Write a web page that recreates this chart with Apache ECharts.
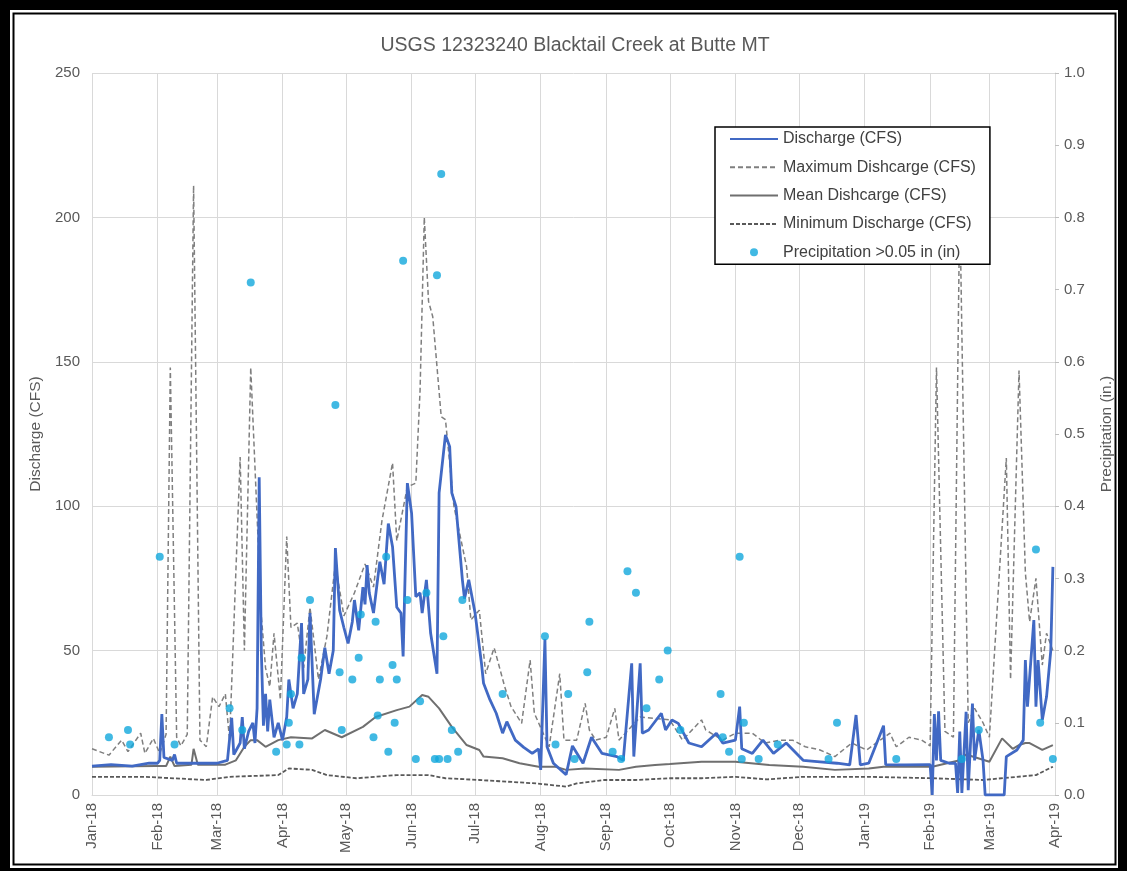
<!DOCTYPE html>
<html>
<head>
<meta charset="utf-8">
<script src="https://cdn.jsdelivr.net/npm/echarts@6/dist/echarts.min.js"></script>
<style>
html,body{margin:0;padding:0;background:#fff;}
#chart{width:1127px;height:871px;}
</style>
</head>
<body>
<div id="chart"></div>
<script>
const titleText = 'USGS 12323240 Blacktail Creek at Butte MT';
const seriesNames = ['Discharge (CFS)','Maximum Dishcarge (CFS)','Mean Dishcarge (CFS)','Minimum Discharge (CFS)','Precipitation >0.05 in (in)'];
const monthAbbr = ['Jan','Feb','Mar','Apr','May','Jun','Jul','Aug','Sep','Oct','Nov','Dec'];

const discharge = [
['2018-01-01',10],['2018-01-10',10.5],['2018-01-20',10],['2018-01-28',11],['2018-02-01',11],['2018-02-02',12],['2018-02-03',28],['2018-02-04',13],
['2018-02-08',12],['2018-02-09',14],['2018-02-10',11],['2018-02-20',11],['2018-03-01',11],['2018-03-06',12],['2018-03-08',26.7],['2018-03-09',14],
['2018-03-12',18],['2018-03-13',27],['2018-03-14',16],['2018-03-16',22],['2018-03-18',25],['2018-03-19',18],['2018-03-20',30],['2018-03-21',110],
['2018-03-22',50],['2018-03-23',24],['2018-03-24',35],['2018-03-25',22],['2018-03-26',33],['2018-03-28',20],['2018-03-30',25],['2018-04-01',19],['2018-04-03',27],['2018-04-04',40],
['2018-04-06',30],['2018-04-08',35],['2018-04-10',59.5],['2018-04-11',35],['2018-04-13',40],['2018-04-14',63],['2018-04-16',28],['2018-04-19',40],
['2018-04-21',51],['2018-04-23',42],['2018-04-25',50],['2018-04-26',85.5],['2018-04-28',64],['2018-04-30',58],['2018-05-02',52.5],['2018-05-04',60],['2018-05-05',67.5],['2018-05-07',57],
['2018-05-09',72],['2018-05-10',66],['2018-05-11',79.6],['2018-05-12',70],['2018-05-14',63],['2018-05-16',75],['2018-05-17',80.8],['2018-05-19',73],['2018-05-21',94],['2018-05-23',86],['2018-05-25',65],['2018-05-27',63],
['2018-05-28',48],['2018-05-30',108],['2018-06-01',97.6],['2018-06-03',68.7],['2018-06-05',70],['2018-06-06',63],['2018-06-08',74.5],['2018-06-10',56],['2018-06-13',42],
['2018-06-14',104.6],['2018-06-17',124.7],['2018-06-19',120.6],['2018-06-20',104.6],['2018-06-22',99.8],['2018-06-25',74.5],['2018-06-26',68],['2018-06-28',74.5],['2018-07-01',63],
['2018-07-04',45.7],['2018-07-05',38.7],['2018-07-08',33],['2018-07-11',28.3],['2018-07-14',21.4],['2018-07-16',25.4],['2018-07-20',19],['2018-07-24',16.5],['2018-07-28',14.4],['2018-07-31',16],
['2018-08-01',8.7],['2018-08-03',54],['2018-08-04',16.7],['2018-08-07',11],['2018-08-13',7],['2018-08-16',17],['2018-08-21',11],['2018-08-25',20],
['2018-08-30',14.4],['2018-09-06',13.3],['2018-09-09',12],['2018-09-13',45.6],['2018-09-14',13.3],['2018-09-17',45.6],['2018-09-18',21.4],['2018-09-21',22.5],
['2018-09-27',28.3],['2018-09-29',22.5],['2018-10-02',26],['2018-10-05',24.8],['2018-10-10',18],['2018-10-16',16.7],['2018-10-23',21.4],['2018-10-26',18],
['2018-11-01',19],['2018-11-03',30.6],['2018-11-04',16],['2018-11-09',14.4],['2018-11-14',19],['2018-11-19',14.4],['2018-11-25',18],['2018-12-03',12],
['2018-12-11',11.5],['2018-12-19',11],['2018-12-25',10.4],['2018-12-28',27.7],['2018-12-30',10.4],['2019-01-03',11],['2019-01-10',24],['2019-01-11',10.5],
['2019-01-20',10.4],['2019-01-31',10.5],['2019-02-01',10.5],['2019-02-02',0],['2019-02-03',28],['2019-02-04',12],['2019-02-05',29],['2019-02-06',12],
['2019-02-10',11],['2019-02-13',11],['2019-02-14',0.7],['2019-02-15',22],['2019-02-16',0.7],['2019-02-18',28.8],['2019-02-19',1.7],['2019-02-21',31.7],
['2019-02-22',12],['2019-02-24',22.5],['2019-02-26',12],['2019-02-27',0],['2019-03-08',0],['2019-03-09',13.3],['2019-03-14',15.6],['2019-03-17',19],
['2019-03-18',46.7],['2019-03-19',30.6],['2019-03-22',60.6],['2019-03-23',30.6],['2019-03-24',46.7],['2019-03-26',26],['2019-03-28',34],['2019-03-30',50],
['2019-03-31',79]
];

const maxDischarge = [
['2018-01-01',16],['2018-01-09',13.8],['2018-01-15',19],['2018-01-18',15],['2018-01-24',21.4],['2018-01-26',14.4],['2018-01-30',19.6],['2018-02-02',14.4],
['2018-02-05',21],['2018-02-07',148],['2018-02-10',20],['2018-02-12',17],['2018-02-15',21],['2018-02-18',211],['2018-02-21',19],['2018-02-24',16.7],
['2018-02-27',34],['2018-03-02',30.6],['2018-03-05',35],['2018-03-07',19],['2018-03-12',117],['2018-03-14',50],['2018-03-17',148],['2018-03-22',62],
['2018-03-24',44],['2018-03-26',37.5],['2018-03-28',56],['2018-03-31',33],['2018-04-03',89.5],['2018-04-05',58],['2018-04-08',59.5],['2018-04-11',44],
['2018-04-14',65],['2018-04-18',40],['2018-04-22',55],['2018-04-26',80],['2018-04-30',62],['2018-05-05',70],['2018-05-10',80],['2018-05-14',72],
['2018-05-18',95],['2018-05-23',115],['2018-05-25',88],['2018-05-30',106.7],['2018-06-03',108],['2018-06-05',140],['2018-06-07',200],['2018-06-09',171],
['2018-06-11',165.6],['2018-06-15',131],['2018-06-17',130],['2018-06-21',100],['2018-06-27',79],['2018-06-29',60.6],['2018-07-03',64],['2018-07-06',42],
['2018-07-10',51],['2018-07-15',37.5],['2018-07-18',30.6],['2018-07-23',24.8],['2018-07-27',46.7],['2018-07-29',28.3],['2018-08-05',16.7],['2018-08-10',42],
['2018-08-12',19],['2018-08-18',19],['2018-08-22',31.7],['2018-08-24',22.5],['2018-08-27',19],['2018-09-01',20],['2018-09-05',30],['2018-09-07',19],
['2018-09-17',27],['2018-10-01',26],['2018-10-07',19],['2018-10-16',26],['2018-10-18',22.5],['2018-10-26',19],['2018-11-01',21.4],['2018-11-09',21.4],
['2018-11-15',18],['2018-11-22',19],['2018-11-28',19],['2018-12-04',16.7],['2018-12-11',15.6],['2018-12-18',13.3],['2018-12-26',18],['2019-01-02',15.6],
['2019-01-13',21.4],['2019-01-16',16.7],['2019-01-22',20],['2019-01-28',19],['2019-02-01',17],['2019-02-04',148],['2019-02-08',22],['2019-02-12',20],
['2019-02-15',205],['2019-02-19',25],['2019-02-22',30],['2019-02-26',25],['2019-03-01',20],['2019-03-09',116.7],['2019-03-11',40],['2019-03-15',147],
['2019-03-18',77],['2019-03-20',60],['2019-03-23',75],['2019-03-26',45],['2019-03-28',56],['2019-03-31',50]
];

const meanDischarge = [
['2018-01-01',9.8],['2018-01-31',10],['2018-02-05',10],['2018-02-07',13.3],['2018-02-09',10],['2018-02-17',10.5],['2018-02-18',16],['2018-02-20',10.5],
['2018-03-05',10.5],['2018-03-10',12],['2018-03-14',16.7],['2018-03-17',19],['2018-03-20',19],['2018-03-24',16.7],['2018-03-30',19],['2018-04-05',20],
['2018-04-15',19.6],['2018-04-21',22.5],['2018-04-29',20],['2018-05-09',23.6],['2018-05-15',27],['2018-05-25',29.4],['2018-05-31',30.6],['2018-06-06',34.6],
['2018-06-09',34],['2018-06-14',30],['2018-06-20',23.6],['2018-06-27',17.3],['2018-07-03',15.6],['2018-07-05',13.3],['2018-07-14',12.7],['2018-07-22',11],
['2018-07-31',9.8],['2018-08-08',9.8],['2018-08-13',8.7],['2018-08-22',9.2],['2018-09-07',8.7],['2018-09-15',9.8],['2018-09-24',10.4],['2018-10-01',10.7],
['2018-10-16',11.5],['2018-11-01',11.5],['2018-11-17',10.4],['2018-12-03',9.8],['2018-12-18',8.7],['2019-01-03',9.2],['2019-01-10',9.8],['2019-02-02',9.8],
['2019-02-15',12],['2019-02-18',14],['2019-03-01',11.5],['2019-03-07',19.6],['2019-03-12',16],['2019-03-15',17.3],['2019-03-18',18],['2019-03-20',18],
['2019-03-26',15.6],['2019-03-31',17.3]
];

const minDischarge = [
['2018-01-01',6.3],['2018-01-26',6.3],['2018-02-24',5.2],['2018-03-07',6.3],['2018-03-30',6.9],['2018-04-04',9.2],['2018-04-15',8.7],['2018-04-22',6.9],
['2018-05-06',5.8],['2018-05-25',6.9],['2018-06-09',6.9],['2018-06-17',5.8],['2018-07-03',5.2],['2018-07-30',4],['2018-08-13',2.9],['2018-08-18',4],
['2018-08-31',5.2],['2018-09-15',5.2],['2018-10-01',5.8],['2018-10-16',5.8],['2018-11-01',6.3],['2018-11-16',5.4],['2018-12-03',6.3],['2018-12-18',6.3],
['2019-01-03',6.3],['2019-02-02',5.8],['2019-02-26',5.2],['2019-03-23',6.9],['2019-03-31',9.8]
];

const precipitation = [
['2018-01-09',0.08],['2018-01-18',0.09],['2018-01-19',0.07],['2018-02-02',0.33],['2018-02-09',0.07],['2018-03-07',0.12],['2018-03-13',0.09],['2018-03-17',0.71],
['2018-03-29',0.06],['2018-04-03',0.07],['2018-04-04',0.10],['2018-04-05',0.14],['2018-04-09',0.07],['2018-04-10',0.19],['2018-04-14',0.27],['2018-04-26',0.54],
['2018-04-28',0.17],['2018-04-29',0.09],['2018-05-04',0.16],['2018-05-07',0.19],['2018-05-08',0.25],['2018-05-14',0.08],['2018-05-15',0.24],['2018-05-16',0.11],
['2018-05-17',0.16],['2018-05-20',0.33],['2018-05-21',0.06],['2018-05-23',0.18],['2018-05-24',0.10],['2018-05-25',0.16],['2018-05-28',0.74],['2018-05-30',0.27],
['2018-06-03',0.05],['2018-06-05',0.13],['2018-06-08',0.28],['2018-06-12',0.05],['2018-06-13',0.72],['2018-06-14',0.05],['2018-06-15',0.86],['2018-06-16',0.22],
['2018-06-18',0.05],['2018-06-20',0.09],['2018-06-23',0.06],['2018-06-25',0.27],['2018-07-14',0.14],['2018-08-03',0.22],['2018-08-08',0.07],['2018-08-14',0.14],
['2018-08-17',0.05],['2018-08-23',0.17],['2018-08-24',0.24],['2018-09-04',0.06],['2018-09-08',0.05],['2018-09-11',0.31],['2018-09-15',0.28],['2018-09-20',0.12],
['2018-09-26',0.16],['2018-09-30',0.20],['2018-10-06',0.09],['2018-10-25',0.14],['2018-10-26',0.08],['2018-10-29',0.06],['2018-11-03',0.33],['2018-11-04',0.05],
['2018-11-05',0.10],['2018-11-12',0.05],['2018-11-21',0.07],['2018-12-15',0.05],['2018-12-19',0.10],['2019-01-16',0.05],['2019-02-16',0.05],['2019-02-24',0.09],
['2019-03-23',0.34],['2019-03-25',0.10],['2019-03-31',0.05]
];

const leftTicks = {min:0, max:250, interval:50};
const rightTicks = {min:0, max:1, interval:0.1};

const chart = echarts.init(document.getElementById('chart'), null, {renderer:'canvas'});
const txt = '#595959', grid = '#d9d9d9', gray = '#7f7f7f';
const fontFam = '"Liberation Sans", Arial, sans-serif';
const lineHidden = {opacity:0};

chart.setOption({
  animation:false,
  backgroundColor:'#fff',
  title:{text:titleText, left:570, top:31, textAlign:'center',
    textStyle:{color:txt, fontSize:19.5, fontWeight:'normal', fontFamily:fontFam}},
  grid:{left:92, right:72, top:73, bottom:76, containLabel:false},
  legend:{
    orient:'vertical', left:715, top:127,
    padding:[4,14,4,14], itemGap:12.3, itemWidth:48, itemHeight:8,
    borderColor:'#000', borderWidth:1.5, backgroundColor:'#fff',
    textStyle:{color:'#404040', fontSize:16, fontFamily:fontFam},
    data:[
      {name:seriesNames[0], itemStyle:lineHidden},
      {name:seriesNames[1], itemStyle:lineHidden},
      {name:seriesNames[2], itemStyle:lineHidden},
      {name:seriesNames[3], itemStyle:lineHidden},
      {name:seriesNames[4], icon:'circle'}
    ]
  },
  xAxis:{
    type:'time', min:'2018-01-01', max:'2019-04-01',
    minInterval:28*86400000, maxInterval:31*86400000,
    axisLine:{show:true, lineStyle:{color:grid}},
    axisTick:{show:false},
    splitLine:{show:true, lineStyle:{color:grid, width:1}},
    axisLabel:{rotate:90, color:txt, fontSize:15, fontFamily:fontFam, margin:8, hideOverlap:false,
      formatter:function(v){const d=new Date(v); return monthAbbr[d.getMonth()]+'-'+String(d.getFullYear()).slice(2);}}
  },
  yAxis:[
    {type:'value', min:leftTicks.min, max:leftTicks.max, interval:leftTicks.interval,
     name:'Discharge (CFS)', nameLocation:'middle', nameGap:48, nameRotate:90,
     nameTextStyle:{color:txt, fontSize:15.5, fontFamily:fontFam},
     axisLine:{show:false}, axisTick:{show:false},
     axisLabel:{color:txt, fontSize:15, fontFamily:fontFam, margin:12},
     splitLine:{show:true, lineStyle:{color:grid, width:1}}},
    {type:'value', min:rightTicks.min, max:rightTicks.max, interval:rightTicks.interval,
     name:'Precipitation (in.)', nameLocation:'middle', nameGap:44, nameRotate:90,
     nameTextStyle:{color:txt, fontSize:15.5, fontFamily:fontFam},
     axisLine:{show:true, lineStyle:{color:grid}},
     axisTick:{show:true, length:4, lineStyle:{color:'#bfbfbf'}},
     axisLabel:{color:txt, fontSize:15, fontFamily:fontFam, margin:9, formatter:v=>v.toFixed(1)},
     splitLine:{show:false}}
  ],
  series:[
    {name:seriesNames[1], type:'line', data:maxDischarge, symbol:'none', z:2,
     lineStyle:{color:gray, width:1.5, type:[5,3]}, itemStyle:{color:gray}},
    {name:seriesNames[2], type:'line', data:meanDischarge, symbol:'none', z:3,
     lineStyle:{color:'#6f6f6f', width:2}, itemStyle:{color:'#6f6f6f'}},
    {name:seriesNames[3], type:'line', data:minDischarge, symbol:'none', z:3,
     lineStyle:{color:'#595959', width:1.8, type:[4,2]}, itemStyle:{color:'#595959'}},
    {name:seriesNames[0], type:'line', data:discharge, symbol:'none', z:4,
     lineStyle:{color:'#4169c4', width:2.8}, itemStyle:{color:'#4169c4'}},
    {name:seriesNames[4], type:'scatter', yAxisIndex:1, data:precipitation, symbol:'circle', symbolSize:8, z:5,
     itemStyle:{color:'#12a7dc'}}
  ],
  graphic:[
    {type:'rect', shape:{x:0,y:0,width:1127,height:10}, style:{fill:'#000'}, z:100},
    {type:'rect', shape:{x:0,y:0,width:10,height:871}, style:{fill:'#000'}, z:100},
    {type:'rect', shape:{x:1118,y:0,width:9,height:871}, style:{fill:'#000'}, z:100},
    {type:'rect', shape:{x:0,y:868,width:1127,height:3}, style:{fill:'#000'}, z:100},
    {type:'rect', shape:{x:13.5,y:13.5,width:1102,height:851}, style:{fill:'none', stroke:'#000', lineWidth:2}, z:100}
  ]
});
</script>
</body>
</html>
